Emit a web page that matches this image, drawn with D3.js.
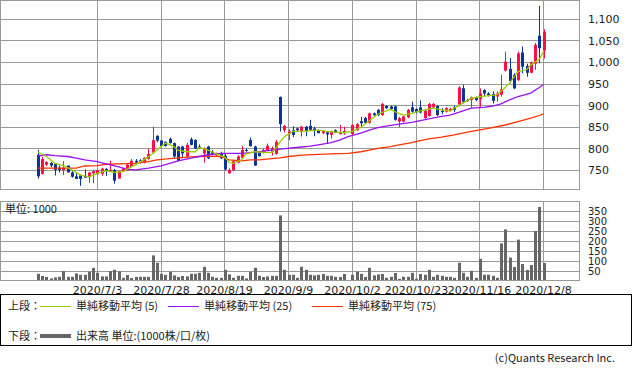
<!DOCTYPE html>
<html>
<head>
<meta charset="utf-8">
<script src="https://cdn.jsdelivr.net/npm/d3@7"></script>
<style>
  body { margin: 0; background: #fff; }
  svg text { font-family: "DejaVu Sans", sans-serif; fill: #222; }
  svg text.jp { font-family: "Noto Sans CJK JP", sans-serif; }
</style>
</head>
<body>
<div id="container"></div>
<script>
// one slot per trading day, 2020/6/15 .. 2020/12/8 (slot 73 = 10/1, no trading)
const openP = [786,742,763,767,765,756,750,761,745,736,738,737,734,743,741,742,753,748,751,731,
  747,749,758,772,773,768,776,791,830,819,816,823,813,805,805,782,822,820,805,789,
  805,793,785,789,783,743,750,768,779,797,820,805,791,793,797,793,788,920,843,835,
  843,847,840,851,853,847,843,836,838,832,843,834,836,null,834,843,864,871,860,882,
  890,878,899,898,898,863,863,873,896,892,896,871,876,896,899,888,886,888,896,902,
  940,913,913,919,915,936,928,927,921,925,981,985,971,959,1023,992,976,997,1062,1028];
const highP = [797,781,771,769,767,761,771,761,748,745,740,752,746,751,752,756,755,772,753,749,
  756,766,776,776,776,780,800,851,831,820,817,826,814,806,807,813,826,822,810,803,
  807,797,791,793,788,755,773,785,807,801,826,807,793,801,812,805,820,921,855,845,
  852,849,853,853,867,851,845,843,840,842,845,855,851,null,857,860,874,874,884,884,
  892,906,901,900,900,874,876,892,909,894,912,890,906,906,901,894,896,895,900,945,
  948,916,921,921,940,938,931,933,933,971,1025,1010,975,1025,1037,997,1002,1045,1131,1077];
const lowP = [731,740,760,757,738,745,739,745,733,730,714,733,721,720,740,737,737,746,719,731,
  746,749,757,762,766,766,775,789,815,805,805,812,778,772,778,778,808,800,800,768,
  776,785,783,776,750,742,748,766,777,793,805,760,782,789,795,784,786,840,838,820,
  827,840,828,829,842,829,836,834,812,824,836,833,832,null,831,841,851,858,858,876,
  876,876,892,890,865,850,861,871,884,882,882,869,874,894,876,880,884,886,885,898,
  905,909,895,910,897,922,921,905,909,921,979,952,938,957,975,967,975,983,998,1009];
const closeP = [736,776,769,761,751,751,755,745,735,730,730,733,745,748,750,754,748,751,726,748,
  755,763,772,768,770,779,788,820,819,806,806,813,782,772,789,809,809,800,801,801,
  778,788,789,778,752,751,771,782,797,795,806,761,783,797,807,801,816,857,853,840,
  832,843,851,841,844,843,836,841,833,840,837,838,841,null,855,857,859,860,882,878,
  878,904,894,892,867,871,875,890,886,884,884,888,904,904,878,885,894,892,890,942,
  909,911,919,913,928,928,924,911,928,938,1002,957,940,1021,990,976,1000,1041,1033,1071];
const volume = [36,25,20,13,18,21,50,21,21,38,31,31,46,66,41,23,23,50,56,48,
  16,30,15,20,21,21,21,128,91,36,31,46,28,20,25,23,36,36,41,71,
  41,21,16,16,56,33,16,26,26,13,46,66,26,20,23,26,26,328,56,31,
  31,16,71,56,31,28,31,35,26,26,21,20,35,null,31,46,36,20,66,28,
  33,35,16,21,40,11,21,21,41,11,35,31,56,21,31,26,21,21,16,91,
  41,21,51,16,111,31,31,26,16,188,258,117,70,207,85,55,80,250,370,90];

// moving averages: [slot, value]
const ma5 = [[0,792],[2,782],[4,766],[6,761],[8,751],[10,739],[12,735],[14,743],[16,749],[18,745],
  [20,747],[22,758],[24,769],[26,781],[28,797],[30,813],[32,805],[33,796],[35,793],[37,793],
  [38,803],[40,797],[42,788],[44,780],[45,768],[46,766],[48,775],[49,788],[51,793],[54,791],
  [55,791],[56,801],[57,816],[58,828],[60,840],[63,841],[66,843],[68,840],[72,837],[74,840],
  [76,850],[78,865],[80,880],[82,888],[83,891],[84,886],[86,878],[88,882],[90,888],[92,892],
  [93,894],[95,890],[97,888],[99,900],[102,917],[105,922],[108,925],[110,942],[111,952],
  [113,979],[115,983],[116,994],[118,1007],[119,1025]];
const ma25 = [[0,783],[2,786],[4,784],[7,782],[9,778],[11,774],[14,770],[16,765],[19,758],[21,752],
  [23,751],[26,755],[29,760],[31,766],[33,772],[36,778],[38,782],[40,786],[43,789],[48,789],
  [52,793],[57,799],[62,804],[64,806],[66,809],[69,814],[71,820],[73,828],[76,836],[78,843],
  [80,849],[83,854],[85,857],[88,861],[90,865],[92,869],[95,875],[97,878],[99,884],[102,894],
  [105,896],[107,899],[109,904],[111,913],[113,921],[116,929],[118,942],[119,949]];
const ma75 = [[0,755],[9,755],[11,760],[14,761],[16,764],[19,765],[23,766],[26,770],[28,774],[31,777],
  [33,779],[36,781],[38,782],[40,783],[43,782],[45,774],[48,772],[50,774],[52,774],[55,777],
  [57,779],[59,782],[62,785],[66,787],[69,788],[73,789],[76,793],[78,797],[80,801],[83,805],
  [85,809],[88,814],[90,819],[92,823],[95,827],[98,832],[102,840],[106,847],[110,855],[113,863],
  [116,871],[118,877],[119,881]];

const dateSlots = [14, 29, 44, 59, 74, 89, 104, 119];
const dateLabels = ['2020/7/3', '2020/7/28', '2020/8/19', '2020/9/9', '2020/10/2', '2020/10/23', '2020/11/16', '2020/12/8'];
const priceTicks = [750, 800, 850, 900, 950, 1000, 1050, 1100];
const volTicks = [50, 100, 150, 200, 250, 300, 350];

const svg = d3.select("#container")
    .append("svg")
    .attr("width", 633)
    .attr("height", 374);

const plotRight = 579.5;
const x = d3.scaleLinear().domain([0, 119]).range([38, 543.5]);
const y = d3.scaleLinear().domain([705.5, 1144.7]).range([189.5, 0]);
const yVol = d3.scaleLinear().domain([0, 400]).range([281, 201]);

const grid = svg.append("g")
    .attr("stroke", "#999")
    .attr("shape-rendering", "crispEdges");

// horizontal grid, price panel
grid.selectAll(".hp")
    .data(priceTicks)
    .enter()
    .append("line")
    .attr("x1", 0).attr("x2", plotRight)
    .attr("y1", d => y(d)).attr("y2", d => y(d));

// horizontal grid, volume panel
grid.selectAll(".hv")
    .data(volTicks)
    .enter()
    .append("line")
    .attr("x1", 0).attr("x2", plotRight)
    .attr("y1", d => yVol(d)).attr("y2", d => yVol(d));

// vertical date grid, both panels
dateSlots.forEach(s => {
    const gx = Math.floor(x(s)) + 0.5;
    grid.append("line").attr("x1", gx).attr("x2", gx).attr("y1", 0).attr("y2", 189.5);
    grid.append("line").attr("x1", gx).attr("x2", gx).attr("y1", 201.5).attr("y2", 280.5);
});

// candles
const candles = svg.append("g");
d3.range(openP.length).filter(i => openP[i] !== null).forEach(i => {
    const o = openP[i], c = closeP[i];
    const up = c >= o;
    const col = up ? "#ff0f45" : "#0a3598";
    const cx = Math.round(x(i));
    candles.append("rect")
        .attr("x", cx)
        .attr("y", y(highP[i]))
        .attr("width", 1)
        .attr("height", y(lowP[i]) - y(highP[i]))
        .attr("fill", col);
    const top = y(Math.max(o, c));
    candles.append("rect")
        .attr("x", cx - 1)
        .attr("y", top)
        .attr("width", 3)
        .attr("height", Math.max(1, y(Math.min(o, c)) - top))
        .attr("fill", col);
});

// moving averages
const line = d3.line()
    .x(d => x(d[0]))
    .y(d => y(d[1]));

[[ma75, "#ff3300"], [ma25, "#9a10f0"], [ma5, "#99cc00"]].forEach(([data, col]) => {
    svg.append("path")
        .datum(data)
        .attr("d", line)
        .attr("fill", "none")
        .attr("stroke", col)
        .attr("stroke-width", 1.3);
});

// volume bars
svg.append("g")
    .selectAll("rect")
    .data(volume.map((v, i) => [i, v]).filter(d => d[1] !== null))
    .enter()
    .append("rect")
    .attr("x", d => Math.round(x(d[0])) - 1)
    .attr("y", d => yVol(d[1]))
    .attr("width", 3)
    .attr("height", d => yVol(0) - yVol(d[1]))
    .attr("fill", "#666");

// panel frames
svg.append("rect")
    .attr("x", 0.5).attr("y", 0.5)
    .attr("width", plotRight - 0.5).attr("height", 189)
    .attr("fill", "none").attr("stroke", "#999")
    .attr("shape-rendering", "crispEdges");
svg.append("rect")
    .attr("x", 0.5).attr("y", 201.5)
    .attr("width", plotRight - 0.5).attr("height", 79)
    .attr("fill", "none").attr("stroke", "#999")
    .attr("shape-rendering", "crispEdges");

// price labels
svg.selectAll(".pl")
    .data(priceTicks)
    .enter()
    .append("text")
    .attr("x", 588)
    .attr("y", d => y(d))
    .attr("dy", "0.36em")
    .attr("font-size", 11)
    .text(d3.format(","));

// volume labels (tightly stacked, as in the original)
svg.selectAll(".vl")
    .data(volTicks)
    .enter()
    .append("text")
    .attr("x", 588)
    .attr("y", d => yVol(d))
    .attr("dy", "0.36em")
    .attr("font-size", 10)
    .text(d => d);

// date labels
svg.selectAll(".dl")
    .data(dateSlots)
    .enter()
    .append("text")
    .attr("x", d => Math.floor(x(d)) + 0.5)
    .attr("y", 294)
    .attr("text-anchor", "middle")
    .attr("font-size", 11)
    .text((d, i) => dateLabels[i]);

svg.append("text")
    .attr("class", "jp")
    .attr("x", 5).attr("y", 213)
    .attr("font-size", 11)
    .text("単位: 1000");

// legend
const legend = svg.append("g");
legend.append("rect")
    .attr("x", 0.5).attr("y", 294.5)
    .attr("width", 631).attr("height", 51)
    .attr("fill", "none").attr("stroke", "#000")
    .attr("shape-rendering", "crispEdges");

const legendRows = [
    { y: 306.5, label: "上段：", items: [
        { x: 40, col: "#99cc00", w: 1, text: "単純移動平均 (5)" },
        { x: 168, col: "#9a10f0", w: 1, text: "単純移動平均 (25)" },
        { x: 312, col: "#ff3300", w: 1, text: "単純移動平均 (75)" }
    ]},
    { y: 336, label: "下段：", items: [
        { x: 40, col: "#666", w: 4, text: "出来高 単位:(1000株/口/枚)" }
    ]}
];

legendRows.forEach(row => {
    legend.append("text")
        .attr("class", "jp")
        .attr("x", 8).attr("y", row.y)
        .attr("dy", "0.36em")
        .attr("font-size", 11)
        .text(row.label);
    row.items.forEach(it => {
        legend.append("line")
            .attr("x1", it.x).attr("x2", it.x + 31)
            .attr("y1", row.y).attr("y2", row.y)
            .attr("stroke", it.col)
            .attr("stroke-width", it.w);
        legend.append("text")
            .attr("class", "jp")
            .attr("x", it.x + 36).attr("y", row.y)
            .attr("dy", "0.36em")
            .attr("font-size", 11)
            .text(it.text);
    });
});

svg.append("text")
    .attr("class", "jp")
    .attr("x", 615).attr("y", 358)
    .attr("dy", "0.36em")
    .attr("text-anchor", "end")
    .attr("font-size", 11)
    .attr("fill", "#444")
    .text("(c)Quants Research Inc.");
</script>
</body>
</html>
